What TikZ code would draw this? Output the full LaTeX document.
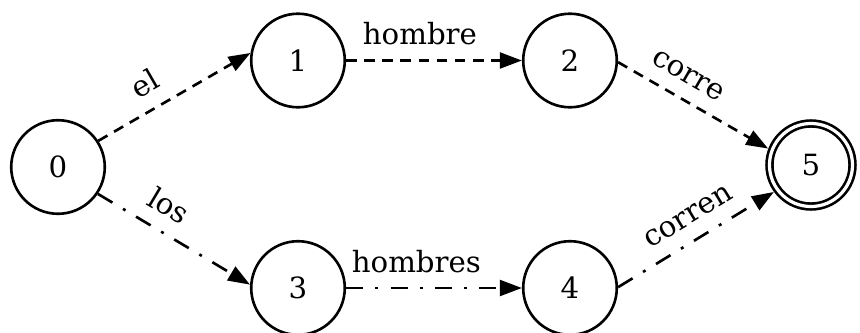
\documentclass[tikz,border=0pt]{standalone}
\usepackage{fontspec}
\setmainfont{DejaVu Serif}
\usetikzlibrary{arrows.meta}

\begin{document}
\begin{tikzpicture}[x=0.342pt, y=-0.342pt,
		state/.style={draw, circle, line width=0.9pt, minimum size=32pt, inner sep=0pt},
		final/.style={state, double, line width=0.9pt, double distance=1.1pt, minimum size=28.4pt, outer sep=1.5pt},
		dashline/.style={line width=0.9pt, dash pattern=on 3.6pt off 2.6pt, -{Triangle[length=7.5pt, width=5.4pt]}},
		dotline/.style={line width=0.9pt, dash pattern=on 5.8pt off 4.2pt on 1pt off 4.2pt, -{Triangle[length=7.5pt, width=5.4pt]}},
		lbl/.style={sloped, above=1.5pt}]
		\useasboundingbox (0,0) rectangle (860,333);
		
		\node[state] (n0) at (58,167) {0};
		\node[state] (n1) at (298,60.5) {1};
		\node[state] (n2) at (570,60.5) {2};
		\node[state] (n3) at (298,288) {3};
		\node[state] (n4) at (570,288) {4};
		\node[final] (n5) at (811,165) {5};
		
		% upper path
		\draw[dashline] (n0.33) -- node[lbl, pos=0.39] {el} (n1.171);
		\draw[dashline] (n1.east) -- node[lbl, pos=0.42] {hombre} (n2.west);
		\draw[dashline] (n2.-2) -- node[lbl, pos=0.39] {corre} (n5.159);
		
		% lower path
		\draw[dotline] (n0.-34) -- node[lbl, pos=0.38] {los} (n3.176);
		\draw[dotline] (n3.east) -- node[lbl, pos=0.40] {hombres} (n4.west);
		\draw[dotline] (n4.1) -- node[lbl, pos=0.53] {corren} (n5.216);
\end{tikzpicture}
\end{document}
